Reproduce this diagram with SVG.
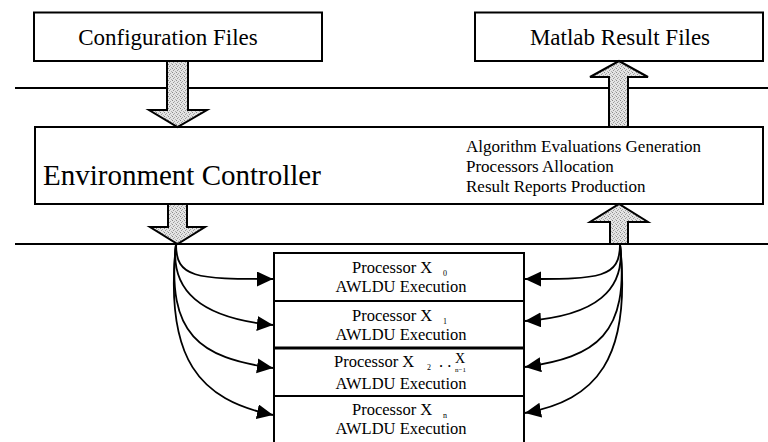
<svg xmlns="http://www.w3.org/2000/svg" width="768" height="442" viewBox="0 0 768 442">
  <defs>
    <!-- stippled grey fill used by the block arrows -->
    <pattern id="stipple" width="4" height="4" patternUnits="userSpaceOnUse">
      <rect width="4" height="4" fill="#e4e4e4"/>
      <rect x="0" y="0" width="1" height="1" fill="#8a8a8a"/>
      <rect x="2" y="1" width="1" height="1" fill="#a8a8a8"/>
      <rect x="1" y="2" width="1" height="1" fill="#9a9a9a"/>
      <rect x="3" y="3" width="1" height="1" fill="#b0b0b0"/>
    </pattern>
    <marker id="head" markerUnits="userSpaceOnUse" markerWidth="17" markerHeight="16" refX="16" refY="7.5" orient="auto">
      <path d="M0,0 L16,7.5 L0,15 Z" fill="#000"/>
    </marker>
  </defs>
  <style>
    .box { fill: #fff; stroke: #000; stroke-width: 2; }
    .rule { stroke: #000; stroke-width: 2; fill: none; }
    .block { fill: url(#stipple); stroke: #000; stroke-width: 2; stroke-linejoin: miter; }
    .link { fill: none; stroke: #000; stroke-width: 1.8; marker-end: url(#head); }
    .t { font-family: "Liberation Serif", "Times New Roman", serif; fill: #000; }
    .big { font-size: 23px; }
    .ctl { font-size: 29px; }
    .duty { font-size: 17px; }
    .proc { font-size: 16.5px; }
    .sub { font-size: 8px; }
  </style>

  <rect width="768" height="442" fill="#fff"/>

  <!-- horizontal layer rules -->
  <g id="rules">
    <line class="rule" x1="15" y1="88" x2="768" y2="88"/>
    <line class="rule" x1="15" y1="244" x2="768" y2="244"/>
  </g>

  <g id="config-files">
    <rect class="box" x="34" y="12.5" width="288" height="48.5"/>
    <text class="t big" x="168" y="45" text-anchor="middle">Configuration Files</text>
  </g>

  <g id="matlab-result-files">
    <rect class="box" x="475" y="12.5" width="288" height="48.5"/>
    <text class="t big" x="620" y="45" text-anchor="middle">Matlab Result Files</text>
  </g>

  <g id="environment-controller">
    <rect class="box" x="35" y="127" width="728" height="77"/>
    <text class="t ctl" x="43" y="185">Environment Controller</text>
    <text class="t duty" x="466" y="152">Algorithm Evaluations Generation</text>
    <text class="t duty" x="466" y="172">Processors Allocation</text>
    <text class="t duty" x="466" y="192">Result Reports Production</text>
  </g>

  <g id="processor-x0">
    <rect class="box" x="274" y="253" width="250" height="48"/>
    <text class="t proc" x="352" y="273">Processor X</text>
    <text class="t sub" x="443" y="276">0</text>
    <text class="t proc" x="401" y="292" text-anchor="middle">AWLDU Execution</text>
  </g>

  <g id="processor-x1">
    <rect class="box" x="274" y="301" width="250" height="47"/>
    <text class="t proc" x="352" y="321">Processor X</text>
    <text class="t sub" x="443" y="324">1</text>
    <text class="t proc" x="401" y="340" text-anchor="middle">AWLDU Execution</text>
  </g>

  <g id="processor-x2-xn1">
    <rect class="box" x="274" y="348" width="250" height="48"/>
    <line x1="274" y1="348" x2="524" y2="348" stroke="#000" stroke-width="3"/>
    <text class="t proc" x="334" y="367">Processor X</text>
    <text class="t sub" x="427" y="370">2</text>
    <text class="t proc" x="439" y="367">. .</text>
    <text class="t" x="455" y="363" font-size="14">X</text>
    <text class="t" x="455" y="372" font-size="7">n−1</text>
    <text class="t proc" x="401" y="389" text-anchor="middle">AWLDU Execution</text>
  </g>

  <g id="processor-xn">
    <rect class="box" x="274" y="396" width="250" height="50"/>
    <text class="t proc" x="352" y="415">Processor X</text>
    <text class="t sub" x="443" y="418">n</text>
    <text class="t proc" x="401" y="434" text-anchor="middle">AWLDU Execution</text>
  </g>

  <g id="connectors">
    <!-- block arrows between layers -->
    <path class="block" d="M167,61 H188 V110 H207 L177.5,127 L149,110 H167 Z"/>
    <path class="block" d="M609,127 V77 H590 L619,61 L648,77 H628 V127 Z"/>
    <path class="block" d="M168,204 H187 V227 H205 L177.5,244 L150,227 H168 Z"/>
    <path class="block" d="M610,244 V222 H590 L619,204 L648,222 H628 V244 Z"/>

    <!-- dispatch from controller to processors -->
    <path class="link" d="M176,244 C176,278 195,279 273,279"/>
    <path class="link" d="M176,244 C170,290 200,318 273,325"/>
    <path class="link" d="M176,244 C166,335 200,358 273,368"/>
    <path class="link" d="M176,244 C164,360 200,400 273,415"/>

    <!-- results back to controller -->
    <path class="link" d="M620,244 C620,278 601,279 525,279"/>
    <path class="link" d="M620,244 C626,290 596,316 525,321"/>
    <path class="link" d="M620,244 C630,335 596,357 525,367"/>
    <path class="link" d="M620,244 C632,360 596,400 525,413"/>
  </g>
</svg>
